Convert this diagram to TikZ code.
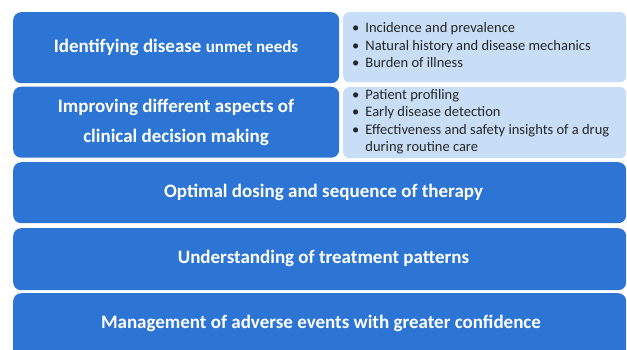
\documentclass[tikz,border=0pt]{standalone}
\usepackage{fontspec}
\setmainfont{Carlito}
\definecolor{mainblue}{RGB}{45,117,212}
\definecolor{lightblue}{RGB}{200,222,247}
\begin{document}
\begin{tikzpicture}[x=1pt,y=-1pt,
  bluebox/.style={fill=mainblue, draw=none, rounded corners=8pt, inner sep=0pt, anchor=north west},
  lightbox/.style={fill=lightblue, draw=none, rounded corners=6pt, inner sep=0pt, anchor=north west},
  bigtext/.style={text=white, font=\bfseries\fontsize{19}{30}\selectfont, inner sep=0pt, align=center},
  bullets/.style={anchor=west, inner sep=0pt, font=\fontsize{14.5}{17.5}\selectfont, align=left, text=black!85}
]
\useasboundingbox (0,0) rectangle (627,349);
\begin{scope}
\clip (0,0) rectangle (627,349);
% row 1
\node[bluebox, minimum width=326pt, minimum height=71pt] (r1) at (13,12) {};
\node[lightbox, minimum width=283pt, minimum height=70pt] (l1) at (343,12) {};
% row 2
\node[bluebox, minimum width=326pt, minimum height=71pt] (r2) at (13,86.5) {};
\node[lightbox, minimum width=283pt, minimum height=71pt] (l2) at (343,87) {};
% full rows
\node[bluebox, minimum width=613pt, minimum height=61pt] (r3) at (13,162) {};
\node[bluebox, minimum width=613pt, minimum height=62pt] (r4) at (13,228) {};
\node[bluebox, minimum width=613pt, minimum height=75pt] (r5) at (13,293) {};
\end{scope}
% texts
\node[bigtext] (t1) at (176,47)
  {Identifying disease {\fontsize{17}{30}\selectfont unmet needs}};
\node[bigtext] (t2) at (176,122)
  {Improving different aspects of\\clinical decision making};
\node[bigtext] (t3) at (323.5,192.5)
  {Optimal dosing and sequence of therapy};
\node[bigtext] (t4) at (323.5,258.5)
  {Understanding of treatment patterns};
\node[bigtext] (t5) at (321,323)
  {Management of adverse events with greater confidence};
\node[bullets] (b1) at (352,46.5) {%
  \begin{tabular}{@{}l@{\hspace{6pt}}l@{}}
  \textbullet & Incidence and prevalence\\
  \textbullet & Natural history and disease mechanics\\
  \textbullet & Burden of illness
  \end{tabular}};
\node[bullets] (b2) at (352,122) {%
  \begin{tabular}{@{}l@{\hspace{6pt}}l@{}}
  \textbullet & Patient profiling\\
  \textbullet & Early disease detection\\
  \textbullet & Effectiveness and safety insights of a drug\\
   & during routine care
  \end{tabular}};
\end{tikzpicture}
\end{document}
